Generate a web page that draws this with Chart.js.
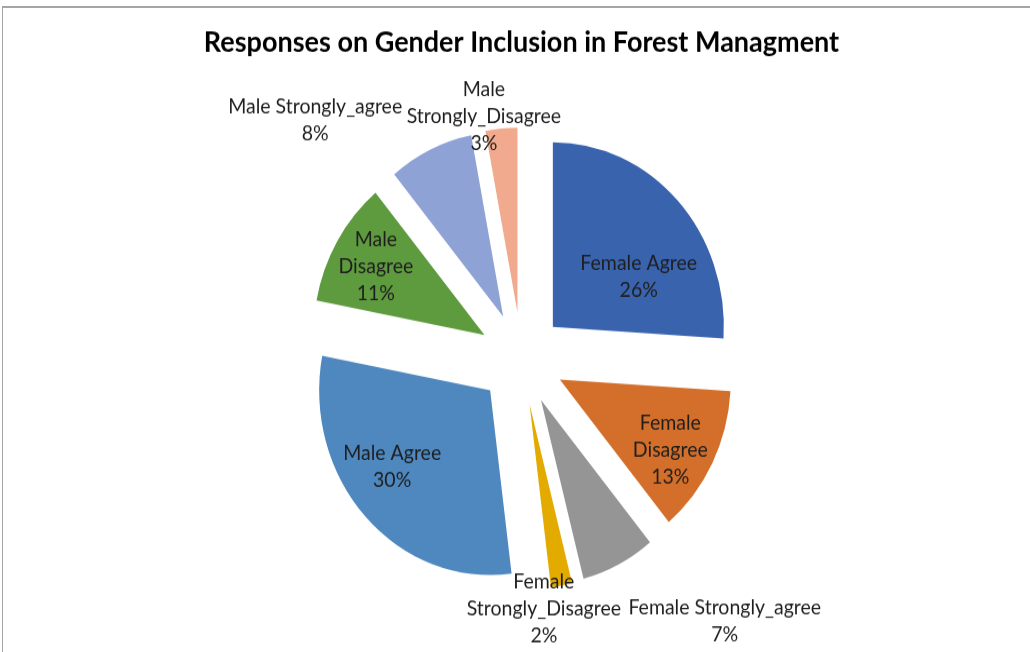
<!DOCTYPE html>
<html>
<head>
<meta charset="utf-8">
<script src="https://cdn.jsdelivr.net/npm/chart.js@4"></script>
<style>
  html, body { margin: 0; padding: 0; background: #fff; overflow: hidden; }
  #frame {
    position: absolute; left: 2px; top: 6px; width: 1028px; height: 646px;
    border-top: 2px solid #a5a5a5; border-left: 1px solid #a5a5a5;
  }
  #chart { position: absolute; left: 0; top: 0; }
</style>
</head>
<body>
<div id="frame"></div>
<!-- drawing buffer is 640 high, shown a little taller -->
<canvas id="chart" width="1030" height="640" style="width:1030px;height:691px"></canvas>
<script>
const categories = [
  'Female Agree', 'Female Disagree', 'Female Strongly_agree', 'Female Strongly_Disagree',
  'Male Agree', 'Male Disagree', 'Male Strongly_agree', 'Male Strongly_Disagree'
]
const shares = [26, 13, 7, 2, 30, 11, 8, 3]
const sliceColors = [
  '#3a63ad', '#d46f2b', '#959595', '#e3aa00',
  '#4e88bf', '#5e9a3e', '#8ea2d6', '#f1aa8d'
]

// label spot per slice: fraction across the slice's sweep, fraction of the radius, one word per line
const labelSpots = [
  [0.66, 0.57, false], [0.575, 0.75, true], [-0.09, 1.61, false], [1.4, 1.11, true],
  [0.57, 0.705, false], [0.49, 0.735, true], [-0.22, 1.53, false], [0.03, 1.08, true]
]

const SHIFT = 43     // how far every slice is pulled out from the centre
const RADIUS = 171

Chart.defaults.font.family = 'Lato'

// exploded pie: move each slice's centre out along its middle angle
// (done here rather than with `offset`, which also resizes narrow slices)
const explode = {
  id: 'explode',
  beforeDatasetsDraw(chart) {
    const { left, right, top, bottom } = chart.chartArea
    const cx = (left + right) / 2
    const cy = (top + bottom) / 2
    chart.getDatasetMeta(0).data.forEach(arc => {
      const mid = (arc.startAngle + arc.endAngle) / 2
      arc.x = cx + Math.cos(mid) * SHIFT
      arc.y = cy + Math.sin(mid) * SHIFT
    })
  }
}

const sliceLabels = {
  id: 'sliceLabels',
  afterDatasetsDraw(chart) {
    const { ctx } = chart
    const meta = chart.getDatasetMeta(0)
    ctx.save()
    ctx.font = '19.5px Lato'
    ctx.fillStyle = '#1e1e1e'
    ctx.textAlign = 'center'
    ctx.textBaseline = 'middle'
    meta.data.forEach((arc, i) => {
      const [along, out, wrap] = labelSpots[i]
      const a = arc.startAngle + along * (arc.endAngle - arc.startAngle)
      const x = arc.x + Math.cos(a) * out * arc.outerRadius
      const y = arc.y + Math.sin(a) * out * arc.outerRadius
      const lines = (wrap ? categories[i].split(' ') : [categories[i]]).concat(shares[i] + '%')
      lines.forEach((t, k) => ctx.fillText(t, x, y + (k - (lines.length - 1) / 2) * 25))
    })
    ctx.restore()
  }
}

new Chart(document.getElementById('chart'), {
  type: 'pie',
  data: {
    labels: categories,
    datasets: [{
      data: shares,
      backgroundColor: sliceColors,
      borderWidth: 0
    }]
  },
  options: {
    responsive: false,
    animation: false,
    radius: RADIUS,
    layout: { padding: { left: 13, right: 0, top: 0, bottom: 31.6 } },
    plugins: {
      legend: { display: false },
      tooltip: { enabled: false },
      title: {
        display: true,
        text: 'Responses on Gender Inclusion in Forest Managment',
        color: '#000',
        font: { size: 27, weight: 'bold', lineHeight: 1.2 },
        padding: { top: 23.4, bottom: 0 }
      }
    }
  },
  plugins: [explode, sliceLabels]
})
</script>
</body>
</html>
